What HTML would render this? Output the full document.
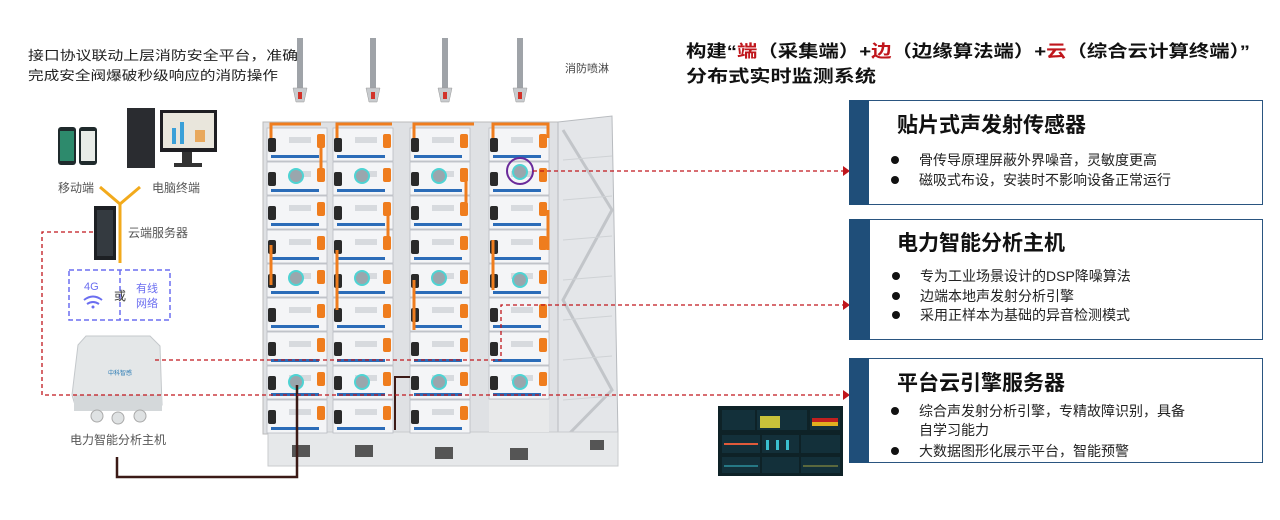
<!DOCTYPE html>
<html><head><meta charset="utf-8"><style>
html,body{margin:0;padding:0;background:#fff;}
svg{display:block;font-family:"Liberation Sans","Noto Sans CJK SC",sans-serif;}
</style></head><body>
<svg width="1280" height="520" viewBox="0 0 1280 520" xmlns="http://www.w3.org/2000/svg">
<defs>
<g id="mod">
 <rect x="0" y="0" width="60" height="33" fill="#f4f5f7" stroke="#b9bcc2" stroke-width="0.8"/>
 <rect x="4" y="27" width="48" height="3" fill="#2b6cb8"/>
 <rect x="22" y="9" width="22" height="6" fill="#d7dade"/>
 <rect x="1" y="10" width="8" height="14" fill="#2a2a2a" rx="2"/>
 <rect x="50" y="6" width="8" height="14" fill="#ef7d1e" rx="2"/>
</g>
<g id="sens"><circle r="7" fill="#9aa6ad" stroke="#4fd3d3" stroke-width="2"/></g>
</defs>

<text x="28" y="60" font-size="13" fill="#222" textLength="270" lengthAdjust="spacingAndGlyphs">接口协议联动上层消防安全平台，准确</text>
<text x="28" y="80" font-size="13" fill="#222" textLength="250" lengthAdjust="spacingAndGlyphs">完成安全阀爆破秒级响应的消防操作</text>

<rect x="58" y="127" width="18" height="38" rx="3" fill="#1f2a2c"/><rect x="60" y="131" width="14" height="30" fill="#2d8a6c"/>
<rect x="79" y="127" width="18" height="38" rx="3" fill="#1f2a2c"/><rect x="81" y="131" width="14" height="30" fill="#e8ece8"/>
<rect x="127" y="108" width="28" height="60" fill="#2a2c30"/>
<rect x="160" y="110" width="57" height="42" fill="#1e1e22"/><rect x="163" y="113" width="51" height="35" fill="#e9e6dc"/>
<rect x="172" y="128" width="4" height="16" fill="#3aa0d8"/><rect x="180" y="122" width="4" height="22" fill="#3aa0d8"/><rect x="195" y="130" width="10" height="12" fill="#e8a85c"/>
<rect x="182" y="152" width="10" height="12" fill="#333"/><rect x="174" y="163" width="28" height="4" fill="#333"/>
<text x="58" y="192" font-size="12" fill="#555">移动端</text>
<text x="152" y="192" font-size="12" fill="#555">电脑终端</text>
<path d="M100 187 L120 204 L140 187 M120 204 L120 263" stroke="#f2aa1c" stroke-width="3" fill="none"/>
<rect x="94" y="206" width="22" height="54" fill="#1d2024"/><rect x="97" y="210" width="16" height="46" fill="#343a40"/>
<text x="128" y="237" font-size="12" fill="#555">云端服务器</text>
<rect x="69" y="270" width="101" height="50" fill="none" stroke="#6b6ef0" stroke-width="1.5" stroke-dasharray="5,3"/>
<line x1="120" y1="270" x2="120" y2="320" stroke="#6b6ef0" stroke-width="1.5" stroke-dasharray="5,3"/>
<text x="84" y="290" font-size="11" fill="#6b6ef0">4G</text>
<path d="M84 300 q9 -7 18 0 M87 304 q6 -4 12 0" stroke="#6b6ef0" stroke-width="2" fill="none"/><circle cx="93" cy="307" r="1.5" fill="#6b6ef0"/>
<text x="114" y="300" font-size="12" fill="#333">或</text>
<text x="136" y="292" font-size="11" fill="#6b6ef0">有线</text>
<text x="136" y="307" font-size="11" fill="#6b6ef0">网络</text>
<path d="M86 336 L150 336 L160 346 L162 405 L75 405 L72 395 L78 345 Z" fill="#e4e7e8" stroke="#c4c8cb"/>
<rect x="74" y="395" width="88" height="16" fill="#d4d8da"/>
<circle cx="97" cy="416" r="6" fill="#dfe2e3" stroke="#aaa"/><circle cx="118" cy="418" r="6" fill="#dfe2e3" stroke="#aaa"/><circle cx="140" cy="416" r="6" fill="#dfe2e3" stroke="#aaa"/>
<text x="108" y="375" font-size="6" fill="#2e7db5">中科智感</text>
<text x="70" y="444" font-size="12" fill="#555">电力智能分析主机</text>

<g fill="#9fa3a8">
 <rect x="297" y="38" width="6" height="52"/><rect x="370" y="38" width="6" height="52"/><rect x="442" y="38" width="6" height="52"/><rect x="517" y="38" width="6" height="52"/>
</g>
<g fill="#c8cbce" stroke="#999" stroke-width="0.5">
 <path d="M293 88 h14 l-3 14 h-8z"/><path d="M366 88 h14 l-3 14 h-8z"/><path d="M438 88 h14 l-3 14 h-8z"/><path d="M513 88 h14 l-3 14 h-8z"/>
</g>
<g fill="#d2332a"><rect x="298" y="92" width="4" height="7"/><rect x="371" y="92" width="4" height="7"/><rect x="443" y="92" width="4" height="7"/><rect x="518" y="92" width="4" height="7"/></g>
<text x="565" y="72" font-size="11" fill="#444">消防喷淋</text>

<rect x="263" y="122" width="300" height="312" fill="#dfe1e4" stroke="#bbb"/>
<path d="M558 122 L612 116 L618 436 L558 444 Z" fill="#e4e6e9" stroke="#b8bbbf"/>
<g stroke="#c2c5c9" stroke-width="3" fill="none"><path d="M563 130 L612 210 L563 300 L612 390 L563 440"/></g>
<g stroke="#cfd2d5" stroke-width="1"><line x1="563" y1="160" x2="612" y2="156"/><line x1="563" y1="200" x2="612" y2="196"/><line x1="563" y1="240" x2="612" y2="236"/><line x1="563" y1="280" x2="612" y2="276"/><line x1="563" y1="320" x2="612" y2="316"/><line x1="563" y1="360" x2="612" y2="356"/><line x1="563" y1="400" x2="612" y2="396"/></g>
<rect x="268" y="432" width="350" height="34" fill="#e6e8ea" stroke="#c9cbce"/>
<g fill="#555"><rect x="292" y="445" width="18" height="12"/><rect x="355" y="445" width="18" height="12"/><rect x="435" y="447" width="18" height="12"/><rect x="510" y="448" width="18" height="12"/><rect x="590" y="440" width="14" height="10"/></g>
<g>
 <use href="#mod" x="267" y="128"/><use href="#mod" x="333" y="128"/><use href="#mod" x="410" y="128"/><use href="#mod" x="489" y="128"/>
 <use href="#mod" x="267" y="162"/><use href="#mod" x="333" y="162"/><use href="#mod" x="410" y="162"/><use href="#mod" x="489" y="162"/>
 <use href="#mod" x="267" y="196"/><use href="#mod" x="333" y="196"/><use href="#mod" x="410" y="196"/><use href="#mod" x="489" y="196"/>
 <use href="#mod" x="267" y="230"/><use href="#mod" x="333" y="230"/><use href="#mod" x="410" y="230"/><use href="#mod" x="489" y="230"/>
 <use href="#mod" x="267" y="264"/><use href="#mod" x="333" y="264"/><use href="#mod" x="410" y="264"/><use href="#mod" x="489" y="264"/>
 <use href="#mod" x="267" y="298"/><use href="#mod" x="333" y="298"/><use href="#mod" x="410" y="298"/><use href="#mod" x="489" y="298"/>
 <use href="#mod" x="267" y="332"/><use href="#mod" x="333" y="332"/><use href="#mod" x="410" y="332"/><use href="#mod" x="489" y="332"/>
 <use href="#mod" x="267" y="366"/><use href="#mod" x="333" y="366"/><use href="#mod" x="410" y="366"/><use href="#mod" x="489" y="366"/>
 <use href="#mod" x="267" y="400"/><use href="#mod" x="333" y="400"/><use href="#mod" x="410" y="400"/>
</g>
<g stroke="#ef7d1e" stroke-width="3" fill="none">
 <path d="M271 138 v-14 h50"/><path d="M337 138 v-14 h55"/><path d="M414 138 v-14 h60"/><path d="M493 138 v-14 h55 v14"/>
 <path d="M321 145 v30"/><path d="M388 210 v30"/><path d="M466 175 v30"/><path d="M548 210 v40"/><path d="M271 245 v40"/><path d="M337 250 v60"/><path d="M414 280 v50"/><path d="M493 240 v50"/>
</g>
<g fill="#e8e9ea"><rect x="489" y="400" width="60" height="32"/></g>
<g>
 <use href="#sens" x="296" y="176"/><use href="#sens" x="362" y="176"/><use href="#sens" x="439" y="176"/><use href="#sens" x="520" y="172"/>
 <use href="#sens" x="296" y="278"/><use href="#sens" x="362" y="278"/><use href="#sens" x="439" y="278"/><use href="#sens" x="520" y="280"/>
 <use href="#sens" x="296" y="382"/><use href="#sens" x="362" y="382"/><use href="#sens" x="439" y="382"/><use href="#sens" x="520" y="382"/>
</g>
<circle cx="520" cy="171" r="13" fill="none" stroke="#6a2a9a" stroke-width="2"/>
<path d="M297 385 V477 H117 V457" stroke="#3b1a16" stroke-width="2.5" fill="none"/>
<path d="M395 430 V377 H410" stroke="#3b1a16" stroke-width="2" fill="none"/>

<g stroke="#c0161c" stroke-width="1.3" stroke-dasharray="4,3" fill="none">
 <path d="M93 232 H42 V395 H843"/>
 <path d="M155 360 H501 V305 H843"/>
 <path d="M533 171 H843"/>
</g>
<g fill="#c0161c"><path d="M843 166 L850 171 L843 176Z"/><path d="M843 300 L850 305 L843 310Z"/><path d="M843 390 L850 395 L843 400Z"/></g>

<rect x="718" y="406" width="125" height="70" fill="#0e2227"/>
<rect x="722" y="410" width="33" height="20" fill="#13303a"/><rect x="757" y="410" width="50" height="20" fill="#13303a"/><rect x="760" y="416" width="20" height="12" fill="#c8c23a"/><rect x="810" y="410" width="30" height="20" fill="#13303a"/><rect x="812" y="418" width="26" height="4" fill="#c02020"/><rect x="812" y="422" width="26" height="4" fill="#e0b020"/>
<rect x="722" y="435" width="38" height="18" fill="#13303a"/><line x1="724" y1="444" x2="758" y2="444" stroke="#e05a3a" stroke-width="2"/>
<rect x="762" y="435" width="37" height="18" fill="#13303a"/><rect x="766" y="440" width="3" height="10" fill="#3ac0d0"/><rect x="776" y="440" width="3" height="10" fill="#3ac0d0"/><rect x="786" y="440" width="3" height="10" fill="#3ac0d0"/>
<rect x="801" y="435" width="39" height="18" fill="#13303a"/>
<rect x="722" y="457" width="38" height="16" fill="#13303a"/><rect x="762" y="457" width="37" height="16" fill="#13303a"/><rect x="801" y="457" width="39" height="16" fill="#13303a"/>
<line x1="724" y1="466" x2="758" y2="466" stroke="#3ac0d0"/><line x1="803" y1="466" x2="838" y2="466" stroke="#a0a040"/>

<text x="686" y="57" font-size="17" font-weight="bold" fill="#111" textLength="564" lengthAdjust="spacingAndGlyphs">构建“<tspan fill="#c0161c">端</tspan>（采集端）+<tspan fill="#c0161c">边</tspan>（边缘算法端）+<tspan fill="#c0161c">云</tspan>（综合云计算终端）”</text>
<text x="686" y="82" font-size="17" font-weight="bold" fill="#111" textLength="190" lengthAdjust="spacingAndGlyphs">分布式实时监测系统</text>

<g>
 <rect x="849.5" y="100.5" width="413" height="104" fill="#fff" stroke="#2a5580"/>
 <rect x="849" y="100" width="20" height="105" fill="#1f4e79"/>
 <text x="897" y="132" font-size="21" font-weight="bold" fill="#111">贴片式声发射传感器</text>
 <circle cx="895" cy="160" r="4" fill="#111"/><text x="919" y="165" font-size="14" fill="#222">骨传导原理屏蔽外界噪音，灵敏度更高</text>
 <circle cx="895" cy="180" r="4" fill="#111"/><text x="919" y="185" font-size="14" fill="#222">磁吸式布设，安装时不影响设备正常运行</text>

 <rect x="849.5" y="219.5" width="413" height="120" fill="#fff" stroke="#2a5580"/>
 <rect x="849" y="219" width="21" height="121" fill="#1f4e79"/>
 <text x="897" y="250" font-size="21" font-weight="bold" fill="#111">电力智能分析主机</text>
 <circle cx="896" cy="276" r="4" fill="#111"/><text x="920" y="281" font-size="14" fill="#222">专为工业场景设计的DSP降噪算法</text>
 <circle cx="896" cy="296" r="4" fill="#111"/><text x="920" y="301" font-size="14" fill="#222">边端本地声发射分析引擎</text>
 <circle cx="896" cy="315" r="4" fill="#111"/><text x="920" y="320" font-size="14" fill="#222">采用正样本为基础的异音检测模式</text>

 <rect x="849.5" y="358.5" width="413" height="104" fill="#fff" stroke="#2a5580"/>
 <rect x="849" y="358" width="20" height="105" fill="#1f4e79"/>
 <text x="897" y="390" font-size="21" font-weight="bold" fill="#111">平台云引擎服务器</text>
 <circle cx="895" cy="411" r="4" fill="#111"/><text x="919" y="416" font-size="14" fill="#222">综合声发射分析引擎，专精故障识别，具备</text>
 <text x="919" y="435" font-size="14" fill="#222">自学习能力</text>
 <circle cx="895" cy="451" r="4" fill="#111"/><text x="919" y="456" font-size="14" fill="#222">大数据图形化展示平台，智能预警</text>
</g>
</svg>
</body></html>
